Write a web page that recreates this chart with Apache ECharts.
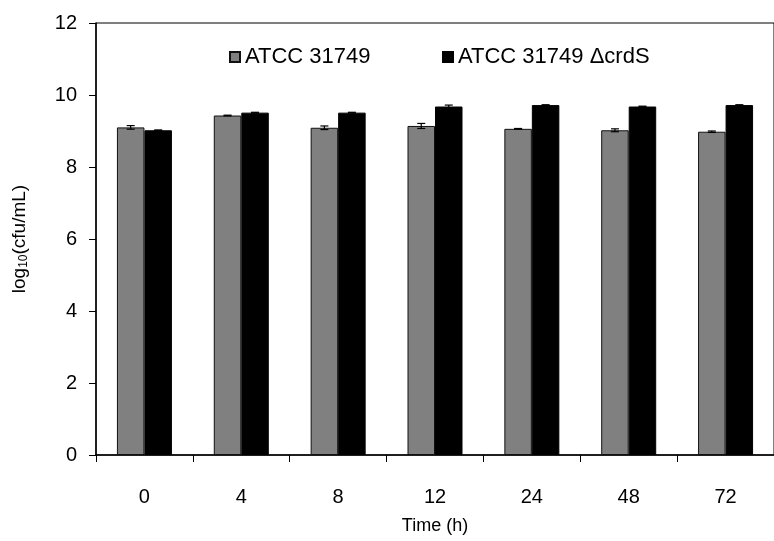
<!DOCTYPE html>
<html>
<head>
<meta charset="utf-8">
<script src="https://cdn.jsdelivr.net/npm/echarts@6/dist/echarts.min.js"></script>
<style>html,body{margin:0;padding:0;background:#fff}#c{width:774px;height:541px}</style>
</head>
<body>
<div id="c"></div>
<script>
var categories = ['0', '4', '8', '12', '24', '48', '72'];
var wildType = [9.10, 9.43, 9.09, 9.14, 9.06, 9.02, 8.98];
var wildErr = [0.05, 0.01, 0.05, 0.07, 0.01, 0.04, 0.02];
var mutant = [9.02, 9.51, 9.51, 9.68, 9.72, 9.68, 9.72];
var mutantErr = [0.01, 0.01, 0.01, 0.04, 0.01, 0.01, 0.01];
var yTicks = [0, 2, 4, 6, 8, 10, 12];
var names = ['ATCC 31749', 'ATCC 31749 \u0394crdS'];

var FONT = 'Liberation Sans, Arial, sans-serif';
var chart = echarts.init(document.getElementById('c'), null, {renderer: 'canvas'});

function errData(vals, errs) {
  return vals.map(function (v, i) { return [i, v, errs[i]]; });
}

function errRender(offset) {
  return function (params, api) {
    var i = api.value(0), v = api.value(1), e = api.value(2);
    var base = api.coord([i, v]);
    var x = base[0] + offset * 27.5 / 2;
    var top = api.coord([i, v + e])[1];
    var bot = api.coord([i, v - e])[1];
    var style = {stroke: '#000', lineWidth: 1.2};
    return {
      type: 'group',
      children: [
        {type: 'line', shape: {x1: x, y1: top, x2: x, y2: bot}, style: style},
        {type: 'line', shape: {x1: x - 4, y1: top, x2: x + 4, y2: top}, style: style},
        {type: 'line', shape: {x1: x - 4, y1: bot, x2: x + 4, y2: bot}, style: style}
      ]
    };
  };
}

var option = {
  animation: false,
  backgroundColor: '#fff',
  textStyle: {fontFamily: FONT},
  grid: {left: 96, top: 23, right: -10, bottom: 86, show: true, borderColor: '#000', borderWidth: 1},
  legend: [
    {data: [names[0]], icon: 'rect', left: 224, top: 41, itemWidth: 10, itemHeight: 10, itemGap: 0,
     textStyle: {fontSize: 22, color: '#000', fontFamily: FONT}, selectedMode: false},
    {data: [names[1]], icon: 'rect', left: 437, top: 41, itemWidth: 10, itemHeight: 10, itemGap: 0,
     textStyle: {fontSize: 22, color: '#000', fontFamily: FONT}, selectedMode: false}
  ],
  xAxis: {
    type: 'category',
    data: categories,
    name: 'Time (h)',
    nameLocation: 'middle',
    nameGap: 62,
    nameTextStyle: {fontSize: 18, color: '#000', fontFamily: FONT},
    axisLine: {lineStyle: {color: '#000', width: 1.5}},
    axisTick: {show: true, length: 7, lineStyle: {color: '#000', width: 1}},
    axisLabel: {fontSize: 20, color: '#000', margin: 32, fontFamily: FONT}
  },
  yAxis: {
    type: 'value',
    min: 0, max: 12, interval: 2,
    name: '{a|log}{b|10}{a|(cfu/mL)}',
    nameLocation: 'middle',
    nameGap: 66,
    nameRotate: 90,
    nameTextStyle: {
      rich: {
        a: {fontSize: 19, color: '#000', fontFamily: FONT},
        b: {fontSize: 12, color: '#000', fontFamily: FONT, verticalAlign: 'bottom', padding: [9, 0, 0, 0]}
      }
    },
    axisLine: {show: true, lineStyle: {color: '#000', width: 1.5}},
    axisTick: {show: true, length: 7, lineStyle: {color: '#000', width: 1}},
    axisLabel: {fontSize: 20, color: '#000', margin: 19, fontFamily: FONT,
      formatter: function (v) { return yTicks.indexOf(v) >= 0 ? String(v) : ''; }},
    splitLine: {show: false}
  },
  series: [
    {name: names[0], type: 'bar', data: wildType, barWidth: 27.5, barGap: '0%',
     itemStyle: {color: '#808080', borderColor: '#111', borderWidth: 1}},
    {name: names[1], type: 'bar', data: mutant, barWidth: 27.5, barGap: '0%',
     itemStyle: {color: '#000', borderColor: '#000', borderWidth: 1}},
    {type: 'custom', renderItem: errRender(-1), data: errData(wildType, wildErr), z: 10, silent: true},
    {type: 'custom', renderItem: errRender(1), data: errData(mutant, mutantErr), z: 10, silent: true}
  ]
};
chart.setOption(option);
</script>
</body>
</html>
